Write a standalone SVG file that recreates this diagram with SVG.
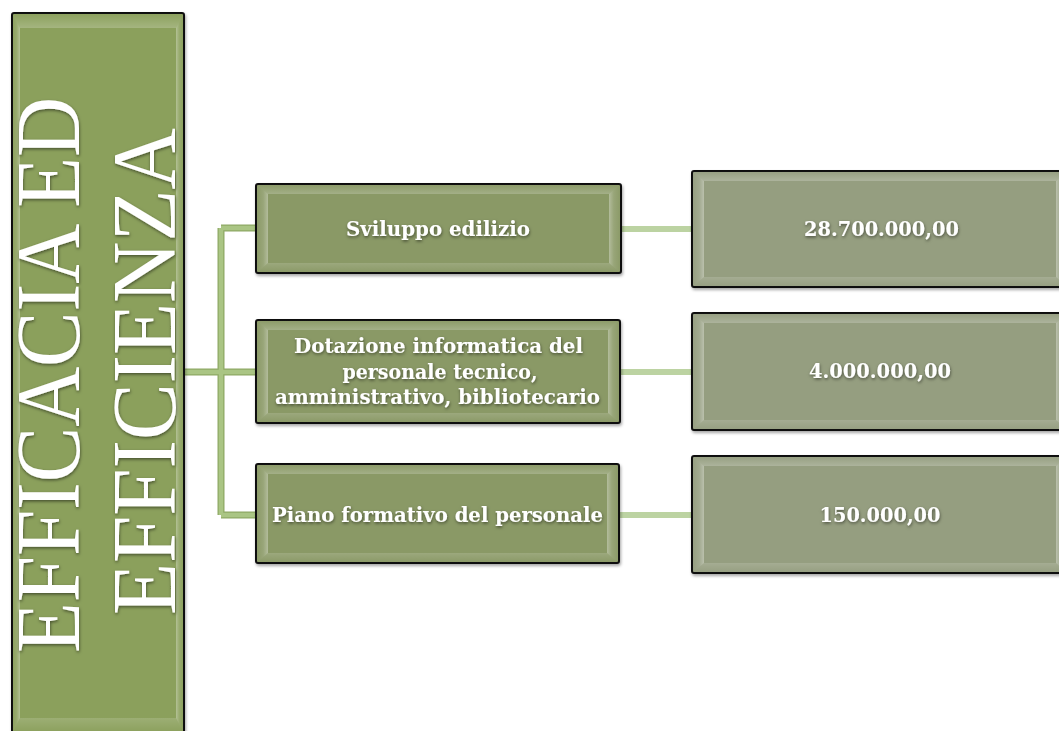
<svg xmlns="http://www.w3.org/2000/svg" width="1059" height="731" viewBox="0 0 1059 731">
<defs>
<style>
.box{stroke:#111;stroke-width:2}
.lb{fill:#8ba05c}
.mb{fill:#8a9966}
.rb{fill:#959e80}
.t{font-family:"DejaVu Serif","Liberation Serif",serif;font-weight:bold;font-size:20px;fill:#fff;text-anchor:middle}
.big{font-family:"Liberation Serif","DejaVu Serif",serif;font-size:90px;fill:#fff;text-anchor:middle}
.cl{fill:none;stroke-linejoin:miter;stroke-linecap:butt}
</style>
<linearGradient id="gT" x1="0" y1="0" x2="0" y2="1"><stop offset="0" stop-color="#fff" stop-opacity="0"/><stop offset="1" stop-color="#fff" stop-opacity="0.22"/></linearGradient>
<linearGradient id="gB" x1="0" y1="0" x2="0" y2="1"><stop offset="0" stop-color="#fff" stop-opacity="0.15"/><stop offset="1" stop-color="#fff" stop-opacity="0"/></linearGradient>
<linearGradient id="gL" x1="0" y1="0" x2="1" y2="0"><stop offset="0" stop-color="#fff" stop-opacity="0"/><stop offset="0.6" stop-color="#fff" stop-opacity="0.12"/><stop offset="1" stop-color="#fff" stop-opacity="0.35"/></linearGradient>
<linearGradient id="gR" x1="0" y1="0" x2="1" y2="0"><stop offset="0" stop-color="#fff" stop-opacity="0.35"/><stop offset="0.4" stop-color="#fff" stop-opacity="0.12"/><stop offset="1" stop-color="#fff" stop-opacity="0"/></linearGradient>
<filter id="sh" x="-10%" y="-10%" width="120%" height="130%"><feDropShadow dx="1" dy="2" stdDeviation="1.5" flood-color="#000" flood-opacity="0.35"/></filter>
<filter id="tsh" x="-10%" y="-30%" width="120%" height="160%"><feDropShadow dx="0.5" dy="1.5" stdDeviation="1.5" flood-color="#000" flood-opacity="0.5"/></filter>
</defs>
<rect width="1059" height="731" fill="#fff"/>

<g id="connectors">
<path class="cl" d="M184,372 H221 M221,228 V515 M221,228 H256 M221,372 H256 M221,515 H256" stroke="#8ea865" stroke-width="7"/>
<path class="cl" d="M184,372 H221 M221,228 V515 M221,228 H256 M221,372 H256 M221,515 H256" stroke="#aac584" stroke-width="4.5"/>
<path class="cl" d="M621,229 H692 M620,372 H692 M619,515 H692" stroke="#bcd3a2" stroke-width="6"/>
</g>

<g id="node-main">
<rect class="box lb" x="12" y="13" width="172" height="720" rx="2" filter="url(#sh)"/>
<path d="M12,13 L184,13 L176,28 L20,28 Z" fill="url(#gT)"/>
<path d="M12,13 L20,28 L20,718 L12,733 Z" fill="url(#gL)"/>
<path d="M184,13 L184,733 L176,718 L176,28 Z" fill="url(#gR)"/>
<path d="M12,733 L20,718 L176,718 L184,733 Z" fill="url(#gB)"/>
<g filter="url(#tsh)">
<text class="big" transform="translate(79,375) rotate(-90)" textLength="556" lengthAdjust="spacingAndGlyphs">EFFICACIA ED</text>
<text class="big" transform="translate(175,371.5) rotate(-90)" textLength="487" lengthAdjust="spacingAndGlyphs">EFFICIENZA</text>
</g>
</g>

<g id="node-sviluppo">
<rect class="box mb" x="256" y="184" width="365" height="89" rx="2" filter="url(#sh)"/>
<path d="M256,184 L621,184 L609,194 L268,194 Z" fill="url(#gT)"/>
<path d="M256,184 L268,194 L268,263 L256,273 Z" fill="url(#gL)"/>
<path d="M621,184 L621,273 L609,263 L609,194 Z" fill="url(#gR)"/>
<path d="M256,273 L268,263 L609,263 L621,273 Z" fill="url(#gB)"/>
<text class="t" x="438" y="236" textLength="184" lengthAdjust="spacingAndGlyphs" filter="url(#tsh)">Sviluppo edilizio</text>
</g>

<g id="node-dotazione">
<rect class="box mb" x="256" y="320" width="364" height="103" rx="2" filter="url(#sh)"/>
<path d="M256,320 L620,320 L608,330 L268,330 Z" fill="url(#gT)"/>
<path d="M256,320 L268,330 L268,413 L256,423 Z" fill="url(#gL)"/>
<path d="M620,320 L620,423 L608,413 L608,330 Z" fill="url(#gR)"/>
<path d="M256,423 L268,413 L608,413 L620,423 Z" fill="url(#gB)"/>
<g filter="url(#tsh)">
<text class="t" x="438.5" y="353" textLength="289" lengthAdjust="spacingAndGlyphs">Dotazione informatica del</text>
<text class="t" x="440" y="378.5" textLength="195" lengthAdjust="spacingAndGlyphs">personale tecnico,</text>
<text class="t" x="437.5" y="404" textLength="325" lengthAdjust="spacingAndGlyphs">amministrativo, bibliotecario</text>
</g>
</g>

<g id="node-piano">
<rect class="box mb" x="256" y="464" width="363" height="99" rx="2" filter="url(#sh)"/>
<path d="M256,464 L619,464 L607,474 L268,474 Z" fill="url(#gT)"/>
<path d="M256,464 L268,474 L268,553 L256,563 Z" fill="url(#gL)"/>
<path d="M619,464 L619,563 L607,553 L607,474 Z" fill="url(#gR)"/>
<path d="M256,563 L268,553 L607,553 L619,563 Z" fill="url(#gB)"/>
<text class="t" x="437.5" y="522" textLength="331" lengthAdjust="spacingAndGlyphs" filter="url(#tsh)">Piano formativo del personale</text>
</g>

<g id="node-v1">
<rect class="box rb" x="692" y="171" width="376" height="116" rx="2" filter="url(#sh)"/>
<path d="M692,171 L1068,171 L1056,181 L704,181 Z" fill="url(#gT)"/>
<path d="M692,171 L704,181 L704,277 L692,287 Z" fill="url(#gL)"/>
<path d="M1068,171 L1068,287 L1056,277 L1056,181 Z" fill="url(#gR)"/>
<path d="M692,287 L704,277 L1056,277 L1068,287 Z" fill="url(#gB)"/>
<text class="t" x="881.5" y="236" textLength="155" lengthAdjust="spacingAndGlyphs" filter="url(#tsh)">28.700.000,00</text>
</g>

<g id="node-v2">
<rect class="box rb" x="692" y="313" width="376" height="117" rx="2" filter="url(#sh)"/>
<path d="M692,313 L1068,313 L1056,323 L704,323 Z" fill="url(#gT)"/>
<path d="M692,313 L704,323 L704,420 L692,430 Z" fill="url(#gL)"/>
<path d="M1068,313 L1068,430 L1056,420 L1056,323 Z" fill="url(#gR)"/>
<path d="M692,430 L704,420 L1056,420 L1068,430 Z" fill="url(#gB)"/>
<text class="t" x="880" y="378" textLength="142" lengthAdjust="spacingAndGlyphs" filter="url(#tsh)">4.000.000,00</text>
</g>

<g id="node-v3">
<rect class="box rb" x="692" y="456" width="376" height="117" rx="2" filter="url(#sh)"/>
<path d="M692,456 L1068,456 L1056,466 L704,466 Z" fill="url(#gT)"/>
<path d="M692,456 L704,466 L704,563 L692,573 Z" fill="url(#gL)"/>
<path d="M1068,456 L1068,573 L1056,563 L1056,466 Z" fill="url(#gR)"/>
<path d="M692,573 L704,563 L1056,563 L1068,573 Z" fill="url(#gB)"/>
<text class="t" x="880" y="522" textLength="121" lengthAdjust="spacingAndGlyphs" filter="url(#tsh)">150.000,00</text>
</g>
</svg>
